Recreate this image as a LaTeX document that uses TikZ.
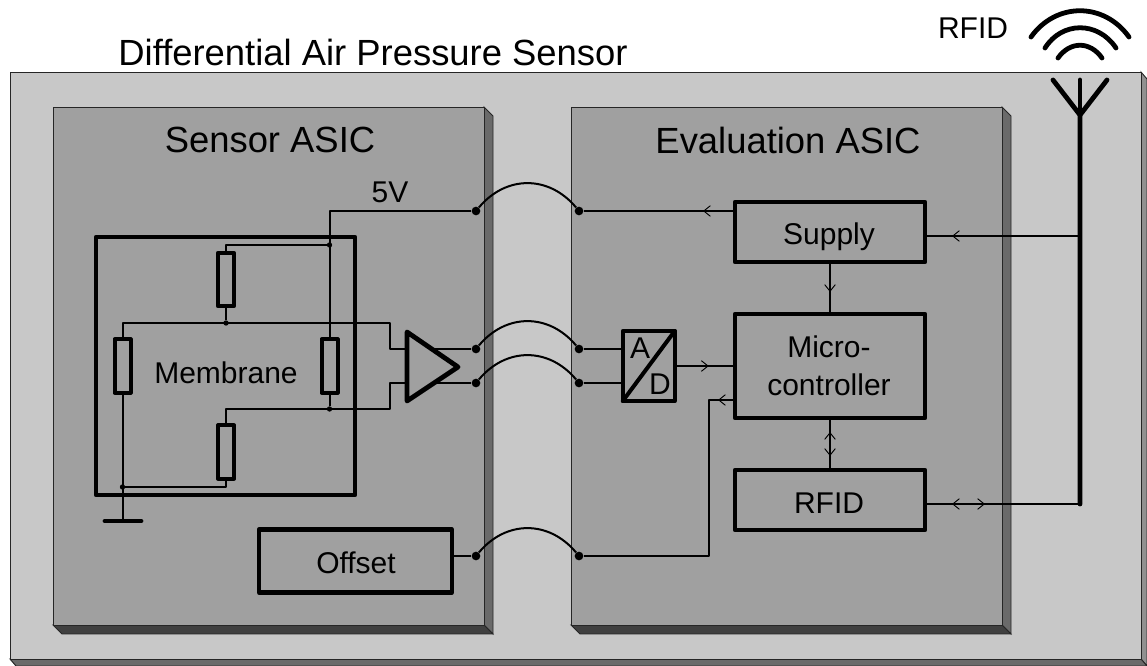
\documentclass[tikz,border=0pt]{standalone}
\usepackage{fontspec}
\setmainfont{Liberation Sans}
\usetikzlibrary{arrows.meta,decorations.markings}
\definecolor{housing}{HTML}{C8C8C8}
\definecolor{housingside}{HTML}{909090}
\definecolor{housingbase}{HTML}{6A6A6A}
\definecolor{chip}{HTML}{A0A0A0}
\definecolor{chipside}{HTML}{6A6A6A}
\definecolor{chipbase}{HTML}{404040}
\definecolor{edge}{HTML}{262626}
\tikzset{
  big/.style={font=\fontsize{27.3}{32}\selectfont,inner sep=0pt,text=black},
  small/.style={font=\fontsize{22.5}{28.5}\selectfont,inner sep=0pt,text=black},
  block/.style={draw=black,line width=3.3pt,line join=round,minimum width=#1,inner sep=0pt,outer sep=0pt},
  resistor/.style={draw=black,line width=3pt,line join=round,minimum width=12pt,minimum height=40pt,inner sep=0pt,outer sep=0pt},
  wire/.style={draw=black,line width=1.5pt,line join=round},
  heavy/.style={draw=black,line width=3.6pt,line cap=round,line join=round},
  junction/.style={circle,fill=black,minimum size=6.5pt,inner sep=0pt},
  tinydot/.style={circle,fill=black,minimum size=4pt,inner sep=0pt},
  midtip/.style={decoration={markings,mark=at position #1 with {\arrow{Straight Barb[length=5pt,width=8pt,line width=.7pt]}}},postaction=decorate}
}
\begin{document}
\begin{tikzpicture}[x=.75pt,y=-.75pt]
\useasboundingbox (0,0) rectangle (1147,666);
% housing
\fill[white] (0,0) rectangle (1147,666);
\filldraw[fill=housingside,draw=edge,line width=.7pt] (1141,72) -- (1147,79) -- (1147,666) -- (1141,659) -- cycle;
\filldraw[fill=housingbase,draw=edge,line width=.7pt] (10,659) -- (16,666) -- (1147,666) -- (1141,659) -- cycle;
\filldraw[fill=housing,draw=edge,line width=.7pt] (10,72) rectangle (1141,659);
% the two ASICs
\foreach \xa/\xb in {53/484,571/1002}{
  \filldraw[fill=chipside,draw=edge,line width=.7pt] (\xb,107) -- (\xb+9,116) -- (\xb+9,634) -- (\xb,625) -- cycle;
  \filldraw[fill=chipbase,draw=edge,line width=.7pt] (\xa,625) -- (\xa+9,634) -- (\xb+9,634) -- (\xb,625) -- cycle;
  \filldraw[fill=chip,draw=edge,line width=.7pt] (\xa,107) rectangle (\xb,625);
}
\node[big] (title) at (373,52) {Differential Air Pressure Sensor};
\node[big] (sensortitle) at (270,140) {Sensor ASIC};
\node[big] (evaltitle) at (788,140) {Evaluation ASIC};
\node[small] (rfidtitle) at (973,28) {RFID};
\node[small] (fivev) at (390,192) {5V};
% blocks
\node[block=194.25pt,minimum height=193.5pt] (membrane) at (225.5,366) {};
\node[small] (membranetext) at (226,373) {Membrane};
\node[block=144.75pt,minimum height=47pt] (offset) at (355.5,561) {};
\node[small] (offsettext) at (356,563) {Offset};
\node[block=142.5pt,minimum height=45pt] (supply) at (830,232) {};
\node[small] (supplytext) at (829,237) {Supply};
\node[block=142.5pt,minimum height=78pt] (micro) at (830,366) {};
\node[small,align=center] (microtext) at (829,366) {Micro-\\controller};
\node[block=142.5pt,minimum height=45pt] (rfid) at (830,500) {};
\node[small] (rfidtext) at (829,503) {RFID};
\node[block=39pt,minimum height=52.5pt,line width=3pt] (adc) at (648.75,366) {};
\node[small] (adca) at (640,348) {A};
\node[small] (adcd) at (660,384) {D};
\draw[heavy,line width=3pt] (adc.south west) -- (adc.north east);
% bridge
\node[resistor] (restop) at (226,279.5) {};
\node[resistor] (resleft) at (122.5,366) {};
\node[resistor] (resright) at (329.5,366) {};
\node[resistor] (resbot) at (226,452) {};
\node[tinydot] (jtop) at (329.5,245) {};
\node[tinydot] (jmid) at (226,323) {};
\node[tinydot] (jlow) at (329.5,409) {};
\node[tinydot] (jgnd) at (122.5,487) {};
\coordinate (knee) at (390,366);
\coordinate (ampina) at (407,349);
\coordinate (ampinb) at (407,383);
\coordinate (amptop) at (407,332);
\coordinate (ampbot) at (407,401);
\coordinate (amptip) at (458,367);
\coordinate (ampouta) at (432,349);
\coordinate (ampoutb) at (432,383);
\coordinate (gndl) at (105,521);
\coordinate (gndr) at (141,521);
\coordinate (gnd) at (122.5,521);
% ends of the jumps between the ASICs
\foreach \name/\xa/\xb/\y in {vcc/476/579/211,siga/476/579/349,sigb/476/579/383,trim/476/579/556}{
  \node[junction] (\name l) at (\xa,\y) {};
  \node[junction] (\name r) at (\xb,\y) {};
  \draw[wire] (\name l) .. controls +(30,-36) and +(-30,-36) .. (\name r);
}
% wires
\draw[wire] (vccl) -- (vccl -| resright) -- (resright.north);
\draw[wire] (jtop) -- (jtop -| restop) -- (restop.north);
\draw[wire] (jmid) -- (restop.south);
\draw[wire] (resleft.north) |- (knee |- jmid) -- (knee |- ampina) -- (ampina);
\draw[wire] (resright.south) -- (jlow);
\draw[wire] (resbot.north) |- (knee |- jlow) -- (knee |- ampinb) -- (ampinb);
\draw[wire] (resbot.south) -- (resbot.south |- jgnd) -- (jgnd);
\draw[wire] (resleft.south) -- (gnd);
\draw[heavy] (gndl) -- (gndr);
\draw[heavy] (amptop) -- (ampbot) -- (amptip) -- cycle;
\draw[wire] (ampouta) -- (sigal);
\draw[wire] (ampoutb) -- (sigbl);
\draw[wire] (triml -| offset.east) -- (triml);
\draw[wire] (sigar) -- (sigar -| adc.west);
\draw[wire] (sigbr) -- (sigbr -| adc.west);
\draw[wire,midtip=24pt] (vccr -| supply.west) -- (vccr);
\draw[wire,midtip=25.5pt] (adc.east) -- (micro.west);
\coordinate (trimknee) at (709,400);
\draw[wire,midtip=12.75pt] (trimknee -| micro.west) -- (trimknee) |- (trimr);
\draw[wire,midtip=22.5pt] (supply.south) -- (micro.north);
\draw[wire,midtip=28.5pt] (micro.south) -- (rfid.north);
\draw[wire,midtip=28.5pt] (rfid.north) -- (micro.south);
% antenna
\coordinate (antsupply) at (1080,236);
\coordinate (antrfid) at (1080,504);
\coordinate (antfoot) at (1080,115);
\coordinate (anttop) at (1080,80);
\coordinate (antl) at (1053,80);
\coordinate (antr) at (1107,80);
\draw[wire,midtip=96pt] (antsupply) -- (antsupply -| supply.east);
\draw[wire,midtip=45pt] (antrfid -| rfid.east) -- (antrfid);
\draw[wire,midtip=96pt] (antrfid) -- (antrfid -| rfid.east);
\draw[heavy] (antrfid) -- (antfoot) -- (antl);
\draw[heavy] (antfoot) -- (antr);
\draw[heavy] (antfoot) -- (anttop);
\draw[heavy] (1031,37) .. controls (1056,2) and (1104,2) .. (1129,37);
\draw[heavy] (1045,48) .. controls (1062,21) and (1098,21) .. (1116,48);
\draw[heavy] (1058,58) .. controls (1070,41) and (1090,41) .. (1102,58);
\end{tikzpicture}
\end{document}
